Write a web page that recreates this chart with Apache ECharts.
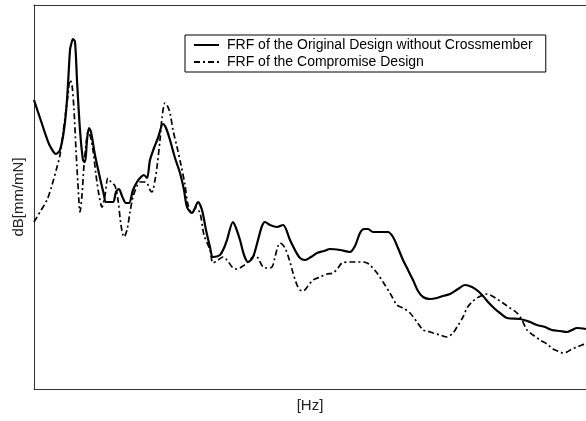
<!DOCTYPE html>
<html>
<head>
<meta charset="utf-8">
<script src="https://cdn.jsdelivr.net/npm/echarts@6/dist/echarts.min.js"></script>
<style>
html,body{margin:0;padding:0;background:#fff;}
#chart{width:586px;height:421px;}
</style>
</head>
<body>
<div id="chart"></div>
<script>
// Frequency (arbitrary units, left edge = 0) and response (arbitrary dB units, bottom = 0)
const seriesNames = ['FRF of the Original Design without Crossmember', 'FRF of the Compromise Design'];

const freqOriginal = [0,4,8,12,16,22,26,30,33,36,37,39,41,43,46,49,51,53,55,57,61,66,70,72,79,82,85,88,92,95,99,103,107,110,113,116,120,124,129,132,136,141,146,150,153,158,161,164,168,172,176,179,186,190,193,199,202,206,210,214,219,224,228,231,236,243,249,256,262,266,271,277,283,290,296,306,316,321,326,330,334,339,346,354,359,364,369,374,379,384,389,396,403,409,416,424,431,438,444,449,454,461,466,473,486,496,503,511,518,526,533,538,543,552];
const dbOriginal = [289,277,265,253,243,235,239,259,289,339,344,350,347,309,259,229,227,249,261,257,234,211,194,187,187,197,200,193,186,186,199,207,212,214,211,229,241,251,265,261,249,231,216,199,182,176,181,187,179,159,142,132,134,141,149,167,161,149,134,127,132,149,163,167,164,162,164,149,137,131,129,132,136,138,140,139,137,143,156,160,160,157,157,157,152,141,129,119,109,98,92,90,91,93,95,100,104,102,98,93,87,80,76,71,70,67,64,62,59,58,57,59,61,60];

const freqCompromise = [0,6,13,18,23,26,29,32,34,36,38,40,42,44,46,48,50,52,54,56,59,62,65,68,71,74,77,81,84,87,90,93,96,99,103,106,110,113,116,118,121,123,126,128,131,133,136,139,143,147,151,154,158,162,166,170,176,179,184,189,193,199,203,209,213,216,221,224,229,233,238,241,244,246,251,256,259,263,266,269,274,279,286,293,299,304,308,316,323,329,333,336,343,349,356,363,369,376,383,389,393,399,406,413,419,423,429,433,438,443,449,453,458,463,469,476,483,488,493,499,506,513,519,526,529,533,538,543,548,552];
const dbCompromise = [167,177,189,204,222,234,256,279,294,309,304,279,239,204,177,194,224,244,257,254,239,214,194,182,194,211,207,203,189,164,152,159,177,192,203,207,207,206,199,197,209,222,249,271,286,284,276,259,242,224,204,184,176,181,176,154,139,126,129,132,129,121,120,123,126,129,134,131,122,121,122,132,143,146,141,127,116,104,99,98,103,109,112,115,116,121,126,127,127,127,126,124,116,107,96,84,81,76,67,59,58,56,54,52,56,62,72,81,87,91,94,95,93,90,86,81,76,69,59,54,49,45,40,37,36,37,40,42,44,45];

const zip = (xs, ys) => xs.map((x, i) => [x, ys[i]]);

const chart = echarts.init(document.getElementById('chart'), null, {renderer: 'canvas'});
const font = '"Liberation Sans", Arial, sans-serif';

chart.setOption({
  animation: false,
  backgroundColor: '#fff',
  textStyle: {fontFamily: font},
  grid: {left: 34, top: 5, right: 0, bottom: 32, containLabel: false},
  legend: {
    orient: 'vertical',
    left: 185,
    top: 35,
    padding: [3, 13, 3, 8],
    itemGap: 3,
    itemWidth: 25,
    itemHeight: 14,
    borderColor: '#000',
    borderWidth: 1,
    backgroundColor: '#fff',
    itemStyle: {color: 'rgba(0,0,0,0)', borderWidth: 0, opacity: 0},
    textStyle: {fontFamily: font, fontSize: 14, color: '#000', padding: [0, 0, 0, 3]},
    data: seriesNames
  },
  xAxis: [
    {
      type: 'value', min: 0, max: 552, position: 'bottom',
      name: '[Hz]', nameLocation: 'middle', nameGap: 9,
      nameTextStyle: {fontFamily: font, fontSize: 15, color: '#222'},
      axisLine: {show: true, onZero: false, lineStyle: {color: '#333', width: 1}},
      axisTick: {show: false}, axisLabel: {show: false}, splitLine: {show: false}
    },
    {
      type: 'value', min: 0, max: 552, position: 'top',
      axisLine: {show: true, onZero: false, lineStyle: {color: '#333', width: 1}},
      axisTick: {show: false}, axisLabel: {show: false}, splitLine: {show: false}
    }
  ],
  yAxis: {
    type: 'value', min: 0, max: 384,
    name: 'dB[mm/mN]', nameLocation: 'middle', nameGap: 8,
    nameTextStyle: {fontFamily: font, fontSize: 15, color: '#222'},
    axisLine: {show: true, onZero: false, lineStyle: {color: '#333', width: 1}},
    axisTick: {show: false}, axisLabel: {show: false}, splitLine: {show: false}
  },
  series: [
    {
      name: seriesNames[0], type: 'line', symbol: 'none', smooth: 0.3,
      data: zip(freqOriginal, dbOriginal),
      lineStyle: {color: '#000', width: 2.2, type: 'solid'},
      itemStyle: {color: '#000'}
    },
    {
      name: seriesNames[1], type: 'line', symbol: 'none', smooth: 0.3,
      data: zip(freqCompromise, dbCompromise),
      lineStyle: {color: '#000', width: 1.7, type: [6, 3, 2, 3]},
      itemStyle: {color: '#000'}
    }
  ]
});
</script>
</body>
</html>
